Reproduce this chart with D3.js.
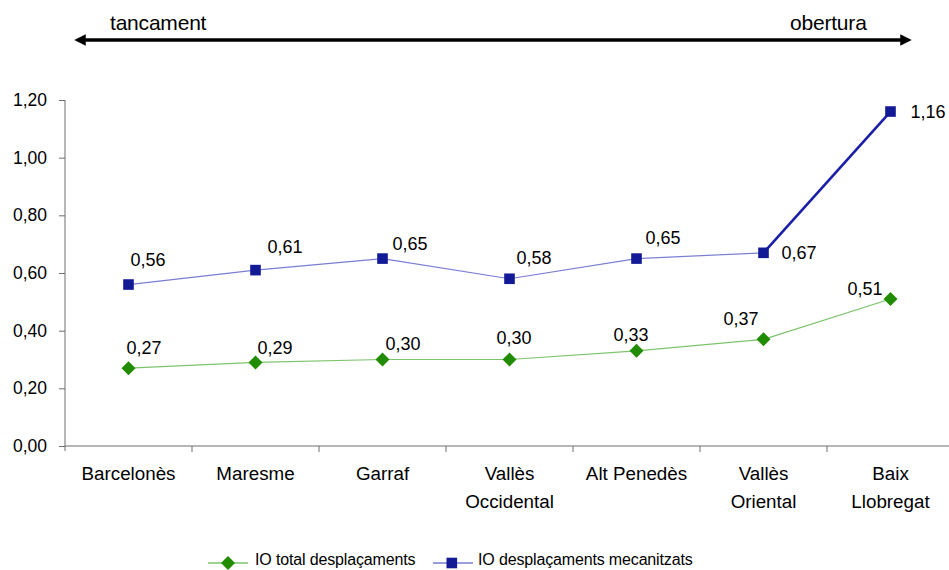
<!DOCTYPE html>
<html>
<head>
<meta charset="utf-8">
<script src="https://cdn.jsdelivr.net/npm/d3@7"></script>
<style>
  html, body { margin: 0; padding: 0; background: #fff; }
  svg { display: block; font-family: "Liberation Sans", Arial, sans-serif; }
</style>
</head>
<body>
<svg id="chart" width="949" height="570"></svg>
<script>
// Comarques de la regió metropolitana
const comarques = [
  ["Barcelonès"], ["Maresme"], ["Garraf"], ["Vallès", "Occidental"],
  ["Alt Penedès"], ["Vallès", "Oriental"], ["Baix", "Llobregat"]
];
// Índex d'obertura
const ioTotal = [0.27, 0.29, 0.30, 0.30, 0.33, 0.37, 0.51];
const ioMecanitzats = [0.56, 0.61, 0.65, 0.58, 0.65, 0.67, 1.16];
const yTicks = [0, 0.2, 0.4, 0.6, 0.8, 1.0, 1.2];
const serieNames = ["IO total desplaçaments", "IO desplaçaments mecanitzats"];

const fmt = v => d3.format(".2f")(v).replace(".", ",");

const svg = d3.select("#chart");

const x = d3.scaleBand().domain(d3.range(comarques.length)).range([65, 954]);
const y = d3.scaleLinear().domain([0, 1.2]).range([446, 100]);
const cx = i => x(i) + x.bandwidth() / 2;

// Eixos
const axisColor = "#6e6e6e";
const yAxis = svg.append("g").attr("transform", "translate(65,0)")
  .call(d3.axisLeft(y).tickValues(yTicks).tickFormat(fmt).tickSize(6).tickSizeOuter(0));
yAxis.select(".domain").attr("stroke", axisColor).attr("d", "M0,100V451");
yAxis.selectAll(".tick line").attr("stroke", axisColor);
yAxis.selectAll(".tick text").attr("x", -18).attr("font-size", 17.5)
  .attr("fill", "#000").attr("font-family", "Liberation Sans, Arial, sans-serif");

const xAxis = svg.append("g").attr("transform", "translate(0,446)");
xAxis.append("line").attr("x1", 65).attr("x2", 954).attr("stroke", axisColor);
xAxis.selectAll("line.tk").data(d3.range(1, comarques.length)).join("line")
  .attr("class", "tk")
  .attr("x1", i => x(i)).attr("x2", i => x(i))
  .attr("y1", 0).attr("y2", 6).attr("stroke", axisColor);
xAxis.selectAll("text.cat").data(comarques).join("text")
  .attr("class", "cat")
  .attr("text-anchor", "middle").attr("font-size", 18.8)
  .attr("transform", (d, i) => `translate(${cx(i)},0)`)
  .selectAll("tspan").data(d => d).join("tspan")
  .attr("x", 0).attr("y", (d, j) => 27 + j * 28.5).attr("dy", "0.35em")
  .text(d => d);

// Colors de les sèries
const blueMark = "#121a96";
const blueLine = "#7a7ed2";
const greenMark = "#228c00";
const greenLine = "#7cc46c";

const segs = (vals) => d3.range(vals.length - 1).map(i => [i, vals[i], vals[i + 1]]);

svg.append("g").selectAll("line").data(segs(ioTotal)).join("line")
  .attr("x1", d => cx(d[0])).attr("y1", d => y(d[1]))
  .attr("x2", d => cx(d[0] + 1)).attr("y2", d => y(d[2]))
  .attr("stroke", greenLine).attr("stroke-width", 1.2);

// Sèrie mecanitzats: l'últim tram més gruixut
svg.append("g").selectAll("line").data(segs(ioMecanitzats)).join("line")
  .attr("x1", d => cx(d[0])).attr("y1", d => y(d[1]))
  .attr("x2", d => cx(d[0] + 1)).attr("y2", d => y(d[2]))
  .attr("stroke", (d) => d[0] === ioMecanitzats.length - 2 ? "#1b1fa8" : blueLine)
  .attr("stroke-width", (d) => d[0] === ioMecanitzats.length - 2 ? 2.6 : 1.2);

// Marcadors
const diamond = "M0,-7L7,0L0,7L-7,0Z";
svg.append("g").selectAll("path").data(ioTotal).join("path")
  .attr("d", diamond)
  .attr("transform", (d, i) => `translate(${cx(i)},${y(d)})`)
  .attr("fill", greenMark);

svg.append("g").selectAll("rect").data(ioMecanitzats).join("rect")
  .attr("x", (d, i) => cx(i) - 5.3).attr("y", d => y(d) - 5.3)
  .attr("width", 10.6).attr("height", 10.6)
  .attr("fill", blueMark);

// Etiquetes de valor (desplaçament respecte del punt)
const blueLabelPos = [[2, -25], [12, -23], [10, -15], [7, -21], [9, -21], [18, 0], [20, 0]];
const greenLabelPos = [[-2, -20], [2, -15], [3, -16], [-13, -22], [-23, -16], [-40, -21], [-43, -10]];

function labels(vals, pos) {
  svg.append("g").selectAll("text").data(vals).join("text")
    .attr("x", (d, i) => cx(i) + pos[i][0])
    .attr("y", (d, i) => y(d) + pos[i][1])
    .attr("dy", "0.35em")
    .attr("font-size", 18)
    .attr("fill", "#000")
    .text(fmt);
}
labels(ioMecanitzats, blueLabelPos);
labels(ioTotal, greenLabelPos);

// Fletxa tancament - obertura
const defs = svg.append("defs");
["start", "end"].forEach(k => {
  defs.append("marker").attr("id", "arrow-" + k)
    .attr("viewBox", "0 0 10 10").attr("refX", 5).attr("refY", 5)
    .attr("markerWidth", 3.2).attr("markerHeight", 3.2)
    .attr("orient", k === "start" ? "auto-start-reverse" : "auto")
    .append("path").attr("d", "M0,0L10,5L0,10Z").attr("fill", "#000");
});
svg.append("line")
  .attr("x1", 80).attr("x2", 906).attr("y1", 40).attr("y2", 40)
  .attr("stroke", "#000").attr("stroke-width", 3.6)
  .attr("marker-start", "url(#arrow-start)")
  .attr("marker-end", "url(#arrow-end)");

svg.append("text").attr("x", 110).attr("y", 23).attr("dy", "0.35em")
  .attr("font-size", 21).attr("letter-spacing", -0.2).text("tancament");
svg.append("text").attr("x", 790).attr("y", 23).attr("dy", "0.35em")
  .attr("font-size", 21).attr("letter-spacing", -0.2).text("obertura");

// Llegenda
const leg = svg.append("g").attr("transform", "translate(0,559)");
leg.append("line").attr("x1", 208).attr("x2", 248).attr("y1", 4).attr("y2", 4)
  .attr("stroke", greenLine).attr("stroke-width", 1.5);
leg.append("path").attr("d", diamond).attr("transform", "translate(228,4)").attr("fill", greenMark);
leg.append("text").attr("x", 255).attr("y", 0).attr("dy", "0.35em").attr("font-size", 16)
  .attr("letter-spacing", -0.15).text(serieNames[0]);
leg.append("line").attr("x1", 433).attr("x2", 473).attr("y1", 4).attr("y2", 4)
  .attr("stroke", blueLine).attr("stroke-width", 1.5);
leg.append("rect").attr("x", 446.5).attr("y", -1.3).attr("width", 10.6).attr("height", 10.6).attr("fill", blueMark);
leg.append("text").attr("x", 478).attr("y", 0).attr("dy", "0.35em").attr("font-size", 16)
  .attr("letter-spacing", -0.15).text(serieNames[1]);
</script>
</body>
</html>
